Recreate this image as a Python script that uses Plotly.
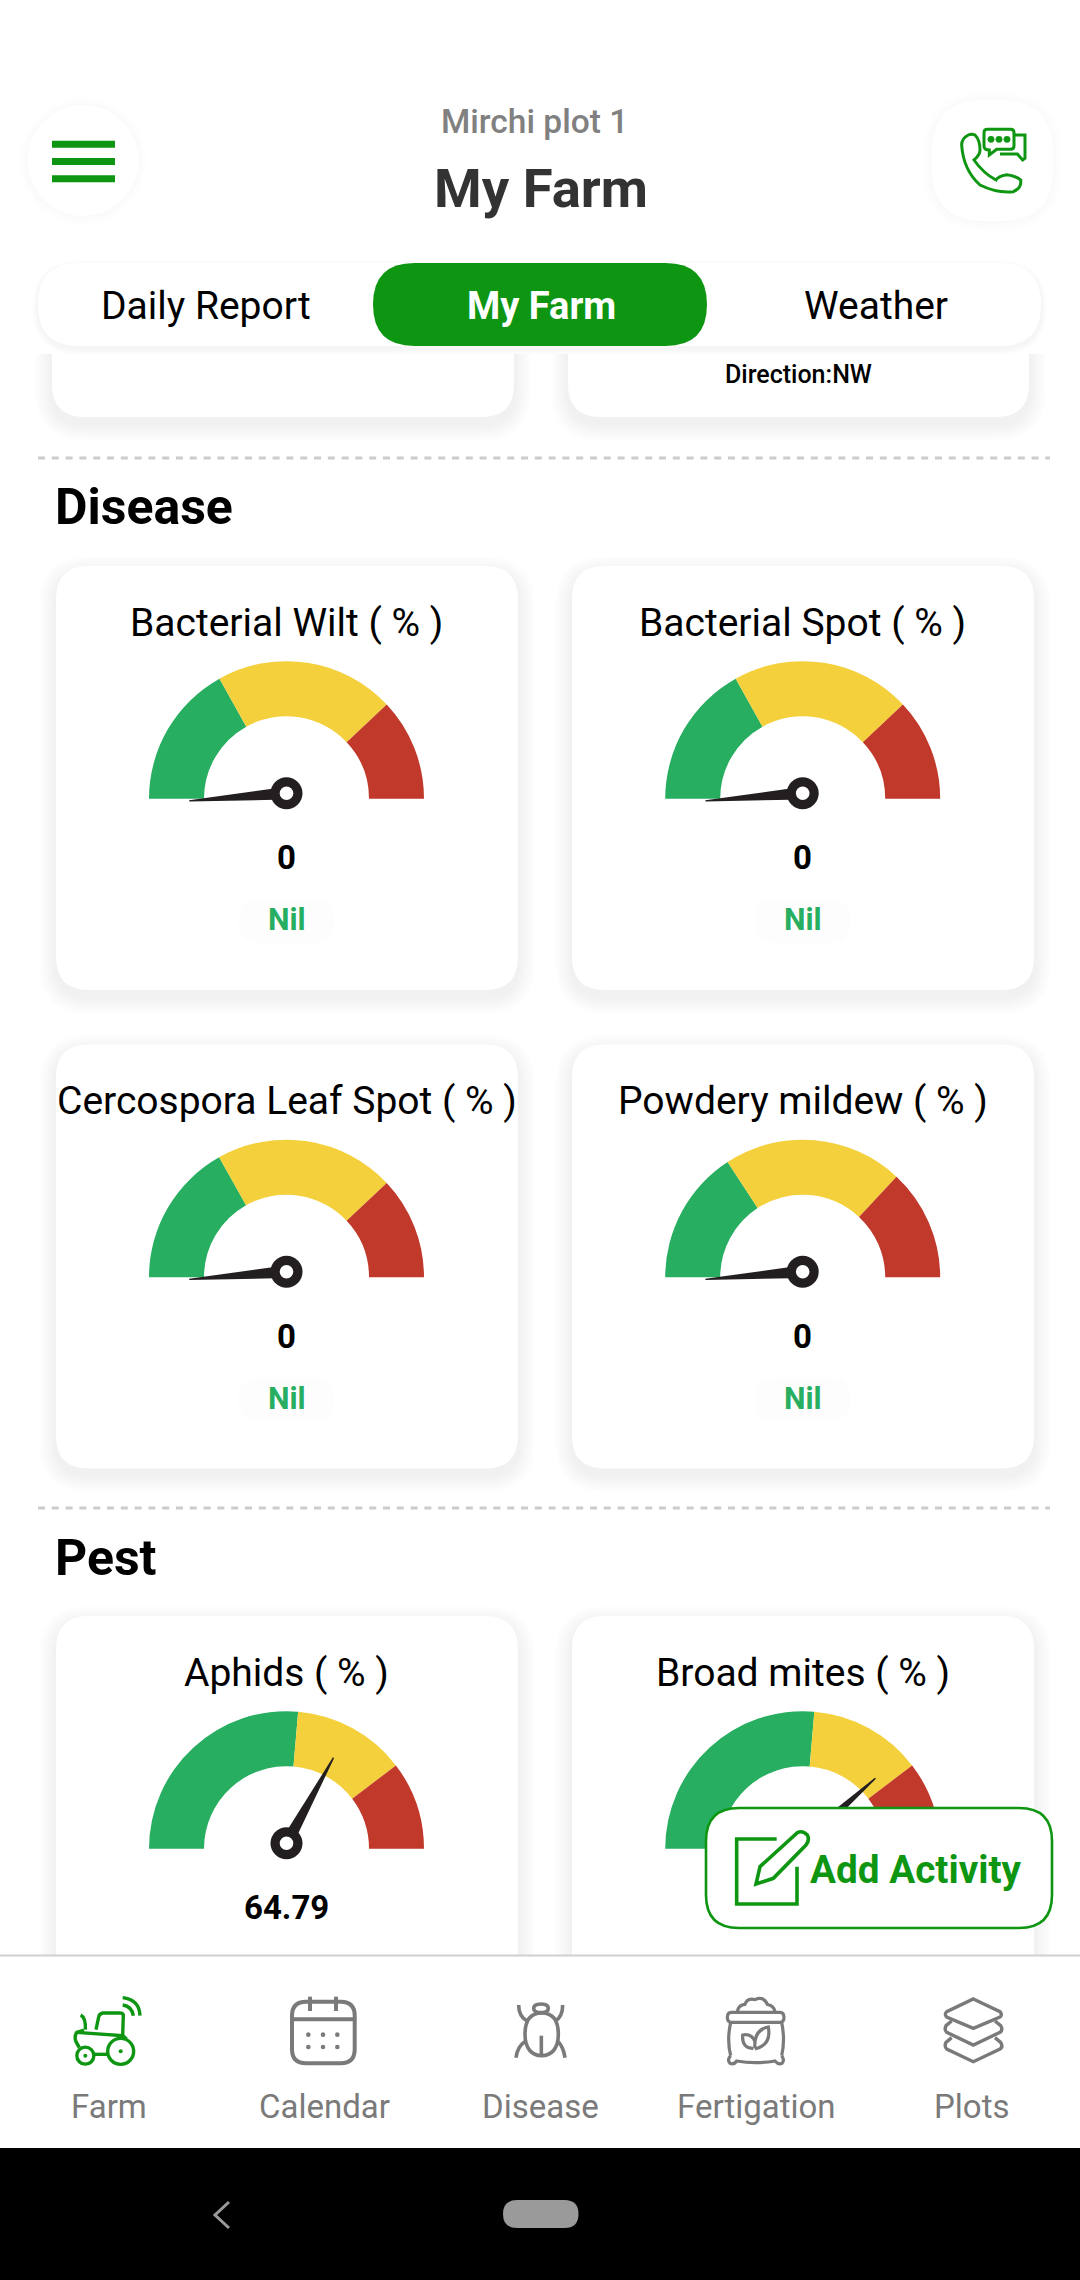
"""
Mirchi plot 1 / My Farm screen: disease and pest gauges drawn with Plotly.
"""
import re
import math
import plotly.graph_objects as go

# Gauge data
gauge_names = ["Bacterial Wilt ( % )", "Bacterial Spot ( % )", "Cercospora Leaf Spot ( % )",
               "Powdery mildew ( % )", "Aphids ( % )", "Broad mites ( % )"]
gauge_values = [0, 0, 0, 0, 64.79, 75]
gauge_labels = ["0", "0", "0", "0", "64.79", ""]
gauge_status = ["Nil", "Nil", "Nil", "Nil", "", ""]
green_share = [33.8, 33.8, 33.7, 31.6, 52.7, 52.7]
yellow_share = [42.2, 42.2, 42.3, 42.3, 26.6, 26.6]
red_share = [24.0, 24.0, 24.0, 26.1, 20.7, 20.7]

tab_labels = ["Daily Report", "My Farm", "Weather"]
nav_labels = ["Farm", "Calendar", "Disease", "Fertigation", "Plots"]
section_labels = ["Disease", "Pest"]

W, H = 1080, 2280
FONT = "Roboto"
BRAND = "#0E9612"
NAV_GREY = "#7A7A7A"
GREEN, YELLOW, RED = "#27AE60", "#F4D03C", "#C0392B"
NEEDLE = "#231F20"

CARD_X = [56, 572]
CARD_Y = [566, 1044.5, 1616]
CARD_W, CARD_H = 462, 424
GAUGE_CX = [286.5, 802.7]
GAUGE_R = 137.5

below = []
above = []
notes = []


def rounded(x0, y0, x1, y1, r):
    """SVG path of a rounded rectangle."""
    return (f"M{x0 + r} {y0} L{x1 - r} {y0} Q{x1} {y0} {x1} {y0 + r} L{x1} {y1 - r} "
            f"Q{x1} {y1} {x1 - r} {y1} L{x0 + r} {y1} Q{x0} {y1} {x0} {y1 - r} "
            f"L{x0} {y0 + r} Q{x0} {y0} {x0 + r} {y0} Z")


def box(target, x0, y0, x1, y1, r, fill, line=None, width=0):
    target.append(dict(type="path", path=rounded(x0, y0, x1, y1, r), fillcolor=fill,
                       line=dict(color=line or fill, width=width), xref="x", yref="y"))


def shadow(x0, y0, x1, y1, r, dy=7, steps=7, grow=2.4, alpha=0.009):
    """Soft drop shadow: a stack of faint rounded rectangles."""
    for i in range(steps, 0, -1):
        s = i * grow
        below.append(dict(type="path", path=rounded(x0 - s, y0 - s + dy, x1 + s, y1 + s + dy, r + s),
                          fillcolor=f"rgba(0,0,0,{alpha})", line=dict(width=0), xref="x", yref="y"))


def stroke(target, path, ox, oy, color, width, scale=3.0, fill="rgba(0,0,0,0)"):
    """Add an icon path written in crop pixels (scale x zoom) at origin ox, oy."""
    is_x = [True]

    def conv(m):
        v = float(m.group(0))
        res = ox + v / scale if is_x[0] else oy + v / scale
        is_x[0] = not is_x[0]
        return f"{res:.2f}"

    out = re.sub(r"-?\d+\.?\d*", conv, path)
    target.append(dict(type="path", path=out, fillcolor=fill,
                       line=dict(color=color, width=width), xref="x", yref="y"))


def disc(target, cx, cy, r, fill, line=None, width=0):
    target.append(dict(type="circle", x0=cx - r, x1=cx + r, y0=cy - r, y1=cy + r, fillcolor=fill,
                       line=dict(color=line or fill, width=width), xref="x", yref="y"))


def text(x, y, s, size, color="#000000", weight=400, anchor="center"):
    notes.append(dict(x=x, y=y, text=s, xref="x", yref="y", showarrow=False, xanchor=anchor,
                      yanchor="middle", font=dict(family=FONT, size=size, color=color, weight=weight)))


def dashed(y):
    below.append(dict(type="line", x0=38, x1=1050, y0=y, y1=y, xref="x", yref="y",
                      line=dict(color="#CCCCCC", width=3, dash="7px,6.8px")))


def add_needle(cx, cy, value):
    """Needle and hub; the angle follows the gauge value."""
    theta = math.radians(-4.5 + 1.903 * value)
    ux, uy = -math.cos(theta), -math.sin(theta)
    px, py = -uy, ux
    bx, by = cx + ux * 12, cy + uy * 12
    tx, ty = cx + ux * 97.6, cy + uy * 97.6
    path = (f"M{bx + px * 5.6:.2f} {by + py * 5.6:.2f} L{tx + px * 0.7:.2f} {ty + py * 0.7:.2f} "
            f"L{tx - px * 0.7:.2f} {ty - py * 0.7:.2f} L{bx - px * 5.6:.2f} {by - py * 5.6:.2f} Z")
    above.append(dict(type="path", path=path, fillcolor=NEEDLE, line=dict(width=0), xref="x", yref="y"))
    disc(above, cx, cy, 16, NEEDLE)
    disc(above, cx, cy, 6.8, "#FFFFFF")


fig = go.Figure()

# Cards cut off under the tab bar
for x0, x1 in [(52, 514), (568, 1029)]:
    shadow(x0, 200, x1, 417, 33)
    box(below, x0, 200, x1, 417, 33, "#FFFFFF")

# Header area covers the scrolled content
below.append(dict(type="rect", x0=0, x1=W, y0=0, y1=354, fillcolor="#FFFFFF", line=dict(width=0),
                  xref="x", yref="y"))
shadow(38, 263, 1041, 346, 41.5, dy=3, steps=3, grow=1.8, alpha=0.012)
box(below, 38, 263, 1041, 346, 41.5, "#FFFFFF")
box(below, 373, 263, 707, 346, 41.5, BRAND)

text(206, 306, tab_labels[0], 39)
text(541, 306, tab_labels[1], 38, "#FFFFFF", 700)
text(875.5, 306, tab_labels[2], 39)

# Round header buttons
for i in range(5, 0, -1):
    disc(below, 83, 161, 55 + i * 1.8, "rgba(0,0,0,0.003)")
disc(below, 83, 160.5, 55.5, "#FFFFFF")
for y in [144.3, 161.5, 178.7]:
    below.append(dict(type="rect", x0=52, x1=115, y0=y - 3.5, y1=y + 3.5, fillcolor=BRAND,
                      line=dict(width=0), xref="x", yref="y"))
shadow(932, 100, 1053, 221, 52, dy=1, steps=5, grow=1.8, alpha=0.003)
box(below, 932, 100, 1053, 221, 52, "#FFFFFF")
stroke(below, "M205 135 Q185 145 185 165 Q190 240 240 285 Q290 310 340 305 Q365 295 362 270 Q350 258 320 254 "
              "Q295 258 288 270 Q250 250 222 210 Q240 195 240 180 Q240 150 225 135 Q215 130 205 135 Z",
       900, 90, BRAND, 3)
stroke(below, "M262 118 L332 118 Q342 118 342 128 L342 168 Q342 178 332 178 L290 178 L268 195 L268 180 "
              "Q252 180 252 168 L252 128 Q252 118 262 118 Z", 900, 90, BRAND, 3)
stroke(below, "M345 135 L375 135 L375 205 L368 210 L352 192 L300 192", 900, 90, BRAND, 3)
for dx in [273, 297, 321]:
    disc(below, 900 + dx / 3, 90 + 148 / 3, 3.4, BRAND)

text(534, 121.5, "Mirchi plot 1", 33.5, "#808080", 500)
text(540.5, 187.5, "My Farm", 54.5, "#333333", 700)
text(798, 374.5, "Direction:NW", 25, "#000000", 500)

dashed(458)
dashed(1508)
text(53, 507, section_labels[0], 50, "#000000", 700, "left")
text(53, 1558, section_labels[1], 50, "#000000", 700, "left")

# Gauges: each one a half donut from the library, the lower half left transparent
for i, name in enumerate(gauge_names):
    col, row = i % 2, i // 2
    cx, top = GAUGE_CX[col], CARD_Y[row]
    base = top + 232.7
    x0, y0 = CARD_X[col], top
    shadow(x0, y0, x0 + CARD_W, y0 + CARD_H, 33)
    box(below, x0, y0, x0 + CARD_W, y0 + CARD_H, 33, "#FFFFFF")

    hidden = green_share[i] + yellow_share[i] + red_share[i]
    fig.add_trace(go.Pie(
        values=[green_share[i], yellow_share[i], red_share[i], hidden],
        marker=dict(colors=[GREEN, YELLOW, RED, "rgba(0,0,0,0)"], line=dict(width=0)),
        hole=0.6,
        rotation=-90,
        direction="clockwise",
        sort=False,
        textinfo="none",
        hoverinfo="skip",
        showlegend=False,
        domain=dict(x=[(cx - GAUGE_R) / W, (cx + GAUGE_R) / W],
                    y=[1 - (base + GAUGE_R) / H, 1 - (base - GAUGE_R) / H]),
    ))
    add_needle(cx, base - 5.5, gauge_values[i])

    text(cx, top + 56.5, name, 39)
    if gauge_labels[i]:
        text(cx, top + 291.5, gauge_labels[i], 33, "#000000", 700)
    if gauge_status[i]:
        box(below, cx - 48, top + 333, cx + 48, top + 377, 22, "#FDFDFD")
        text(cx, top + 353.5, gauge_status[i], 30.5, GREEN, 700)

# Floating button
box(above, 706, 1808, 1052, 1928, 33, "#FFFFFF", BRAND, 2.6)
stroke(above, "M650 717 L530 717 L530 912 L711 912 L711 800", 560, 1600, BRAND, 3.6)
stroke(above, "M600 800 L712 698 Q728 690 742 705 Q750 720 738 735 L640 835 L588 852 Z", 560, 1600, BRAND, 3.6)
text(916, 1869.5, "Add Activity", 38.7, BRAND, 700)

# Bottom navigation
above.append(dict(type="rect", x0=0, x1=W, y0=1956, y1=2148, fillcolor="#FFFFFF", line=dict(width=0),
                  xref="x", yref="y"))
above.append(dict(type="line", x0=0, x1=W, y0=1955.5, y1=1955.5, line=dict(color="#D0D0D0", width=2),
                  xref="x", yref="y"))
above.append(dict(type="rect", x0=0, x1=W, y0=2148, y1=H, fillcolor="#000000", line=dict(width=0),
                  xref="x", yref="y"))
box(above, 503, 2200, 578.5, 2228, 14, "#9A9A9A")
above.append(dict(type="path", path="M229 2202 L215 2215 L229 2228", line=dict(color="#9A9A9A", width=3),
                  xref="x", yref="y"))

for x, s in zip([109, 324, 540.6, 756, 972], nav_labels):
    text(x, 2106.5, s, 33, NAV_GREY)

# Farm
for p in ["M62 90 Q78 98 76 134",
          "M72 135 L50 142 Q42 155 48 170 L58 188",
          "M50 142 L188 152 L190 90 Q188 84 180 84 L128 84 Q118 86 116 96 L108 134",
          "M100 208 L142 208", "M188 152 L200 162",
          "M188 38 Q238 44 240 92", "M188 60 Q216 64 220 92"]:
    stroke(above, p, 60, 1985, BRAND, 3.4)
disc(above, 60 + 182 / 3, 1985 + 199 / 3, 13, "rgba(0,0,0,0)", BRAND, 3.4)
disc(above, 60 + 76 / 3, 1985 + 212 / 3, 8.5, "rgba(0,0,0,0)", BRAND, 3.4)
disc(above, 60 + 182 / 3, 1985 + 199 / 3, 2, BRAND)
disc(above, 60 + 76 / 3, 1985 + 212 / 3, 2, BRAND)

# Calendar
above.append(dict(type="path", path=rounded(292, 2001.7, 354.7, 2063.3, 14), line=dict(color=NAV_GREY, width=4),
                  xref="x", yref="y"))
stroke(above, "M696 103 L884 103", 60, 1985, NAV_GREY, 4)
stroke(above, "M750 35 L750 78", 60, 1985, NAV_GREY, 4)
stroke(above, "M828 35 L828 78", 60, 1985, NAV_GREY, 4)
for px in [745, 789, 832]:
    for py in [149, 186]:
        disc(above, 60 + px / 3, 1985 + py / 3, 2.3, NAV_GREY)

# Disease
for p in ["M71 70 Q71 57 93 57 Q115 57 115 70 Q115 83 93 83 Q71 83 71 70 Z",
          "M95 84 C135 84 145 115 145 148 C145 190 125 212 95 212 C65 212 45 190 45 148 C45 115 55 84 95 84 Z",
          "M94 152 L94 208", "M26 60 Q26 95 52 108", "M158 60 Q158 95 136 108",
          "M18 218 Q22 185 44 170", "M165 218 Q160 185 144 170"]:
    stroke(above, p, 510, 1985, NAV_GREY, 3.6)

# Fertigation
for p in ["M682 80 Q685 60 705 58 Q712 38 735 44 Q760 32 772 58 Q792 62 795 80",
          "M664 82 L810 82 Q822 82 822 97 Q822 112 810 112 L664 112 Q652 112 652 97 Q652 82 664 82 Z",
          "M662 112 Q650 165 662 212", "M815 112 Q826 165 815 212",
          "M662 212 Q650 225 660 235 Q672 240 680 228 Q735 238 795 228 Q805 240 816 235 Q825 225 815 212",
          "M730 190 Q695 190 698 150 Q725 145 735 170",
          "M735 190 Q730 135 775 126 Q785 180 735 192"]:
    stroke(above, p, 510, 1985, NAV_GREY, 3.2)

# Plots
for p in ["M1390 42 L1470 80 Q1478 90 1470 96 L1390 130 L1310 96 Q1302 88 1310 80 Z",
          "M1325 108 L1308 122 Q1302 135 1310 142 L1390 180 L1470 142 Q1480 135 1472 122 L1455 108",
          "M1325 158 L1308 172 Q1302 185 1310 192 L1390 230 L1470 192 Q1480 185 1472 172 L1455 158"]:
    stroke(above, p, 510, 1985, NAV_GREY, 3.4)

for s in below:
    s["layer"] = "below"
for s in above:
    s["layer"] = "above"

fig.update_layout(
    width=W,
    height=H,
    margin=dict(l=0, r=0, t=0, b=0),
    paper_bgcolor="#FFFFFF",
    plot_bgcolor="#FFFFFF",
    xaxis=dict(range=[0, W], visible=False, fixedrange=True),
    yaxis=dict(range=[H, 0], visible=False, fixedrange=True),
    shapes=below + above,
    annotations=notes,
    showlegend=False,
    font=dict(family=FONT),
)

fig.write_html("out.html", config=dict(displayModeBar=False),
               post_script="document.body.style.margin='0';")
